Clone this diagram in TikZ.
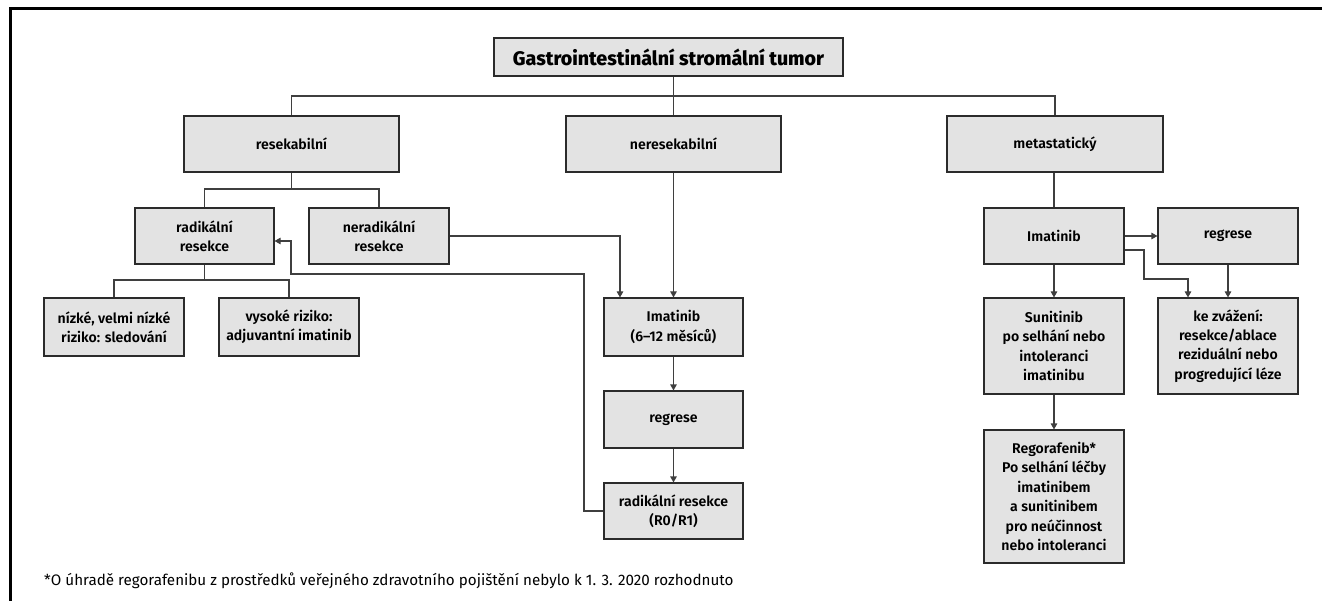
\documentclass[tikz,border=0pt]{standalone}
\usepackage{fontspec}
\setmainfont{Fira Sans}
\newfontfamily\medfont{Fira Sans SemiBold}
\newfontfamily\heavyfont{Fira Sans ExtraBold}
\usetikzlibrary{arrows.meta}
\definecolor{boxfill}{HTML}{E3E3E3}
\definecolor{boxline}{HTML}{2B2B2B}
\definecolor{conn}{HTML}{3F3F3F}
\tikzset{
  gbox/.style={draw=boxline, fill=boxfill, line width=1.1pt, rectangle, inner sep=0pt,
    align=center, font=\medfont\fontsize{14.1}{19.4}\selectfont},
  link/.style={draw=conn, line width=1.1pt},
  arr/.style={link, -{Triangle[length=6pt,width=6.5pt]}},
}
\begin{document}
\begin{tikzpicture}[x=1pt,y=-1pt]
\useasboundingbox (0,0) rectangle (1322,601);
% frame
\draw[line width=3pt, black] (1322,8.5) -- (10.5,8.5) -- (10.5,601);
% nodes
\node[gbox, minimum width=349pt, minimum height=38pt, font=\heavyfont\fontsize{19.6}{21}\selectfont] (title) at (668.5,57) {Gastrointestinální stromální tumor};
\node[gbox, minimum width=215pt, minimum height=56pt] (res) at (291.5,144) {resekabilní};
\node[gbox, minimum width=215pt, minimum height=56pt] (nres) at (673.5,144) {neresekabilní};
\node[gbox, minimum width=216pt, minimum height=56pt] (meta) at (1055,144) {metastatický};
\node[gbox, minimum width=139pt, minimum height=56pt] (rad) at (204.5,236) {radikální\\resekce};
\node[gbox, minimum width=140pt, minimum height=56pt] (nrad) at (379,236) {neradikální\\resekce};
\node[gbox, minimum width=140pt, minimum height=58pt] (low) at (114,327) {nízké, velmi nízké\\riziko: sledování};
\node[gbox, minimum width=140pt, minimum height=58pt] (high) at (289,327) {vysoké riziko:\\adjuvantní imatinib};
\node[gbox, minimum width=139pt, minimum height=58pt] (imA) at (673.5,327) {Imatinib\\(6–12 měsíců)};
\node[gbox, minimum width=139pt, minimum height=57pt] (regA) at (673.5,419.5) {regrese};
\node[gbox, minimum width=139pt, minimum height=56pt] (r0) at (673.5,511) {radikální resekce\\(R0/R1)};
\node[gbox, minimum width=140pt, minimum height=56pt] (imB) at (1054,236) {Imatinib};
\node[gbox, minimum width=140pt, minimum height=56pt] (regB) at (1228,236) {regrese};
\node[gbox, minimum width=140pt, minimum height=96pt] (suni) at (1054,346) {Sunitinib\\po selhání nebo\\intoleranci\\imatinibu};
\node[gbox, minimum width=140pt, minimum height=96pt] (ke) at (1228,346) {ke zvážení:\\resekce/ablace\\reziduální nebo\\progredující léze};
\node[gbox, minimum width=140pt, minimum height=133pt] (rego) at (1054,496.5) {Regorafenib*\\Po selhání léčby\\imatinibem\\a sunitinibem\\pro neúčinnost\\nebo intoleranci};
\node[anchor=west, inner sep=0pt, font=\fontsize{15.2}{17}\selectfont] (note) at (44,581) {*O úhradě regorafenibu z prostředků veřejného zdravotního pojištění nebylo k 1. 3. 2020 rozhodnuto};
% helper levels
\coordinate (b1) at (0,96);
\coordinate (b2) at (0,189);
\coordinate (b3) at (0,280);
\coordinate (fb1) at (584,274);
\coordinate (fb2) at (291,241);
\coordinate (kk) at (1144,279);
% tree connectors
\draw[link] (nres.north |- title.south) -- (nres.north |- b1);
\draw[link] (res.north) |- (meta.north |- b1) -- (meta.north);
\draw[link] (nres.north) -- (nres.north |- b1);
\draw[link] (res.south) -- (res.south |- b2);
\draw[link] (rad.north) |- (nrad.north |- b2) -- (nrad.north);
\draw[link] (rad.south) -- (rad.south |- b3);
\draw[link] (low.north) |- (high.north |- b3) -- (high.north);
\draw[link] (meta.south -| imB.north) -- (imB.north);
% arrows
\draw[arr] (nrad.east) -| ([xshift=-53.5pt]imA.north);
\draw[arr] (nres.south) -- (imA.north);
\draw[arr] (imA.south) -- (regA.north);
\draw[arr] (regA.south) -- (r0.north);
\draw[arr] (r0.west) -| (fb1) -| (fb2) -- (fb2 -| rad.east);
\draw[arr] (imB.east) -- (regB.west);
\draw[arr] ([yshift=-14pt]imB.east) -| (kk) -| ([xshift=-40pt]ke.north);
\draw[arr] (regB.south) -- (ke.north);
\draw[arr] (imB.south) -- (suni.north);
\draw[arr] (suni.south) -- (rego.north);
\end{tikzpicture}
\end{document}
